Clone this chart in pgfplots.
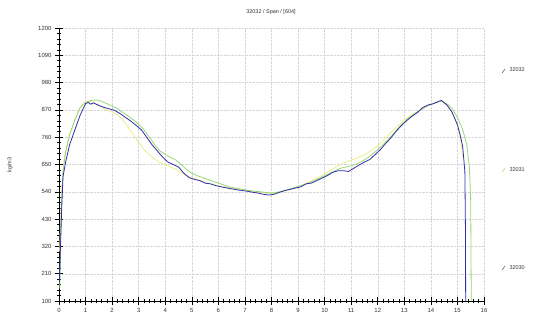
\documentclass[border=0pt]{standalone}
\usepackage{pgfplots}
\pgfplotsset{compat=1.18}
\usepackage{fontspec}
\setmainfont{Liberation Sans}
\definecolor{cblue}{RGB}{50,45,170}
\definecolor{cgreen}{RGB}{150,215,120}
\definecolor{cyellow}{RGB}{235,235,130}
\begin{document}
\begin{tikzpicture}[x=1bp,y=1bp]
\path[use as bounding box] (0,0) rectangle (540,330);
\begin{axis}[
  at={(59bp,29bp)}, anchor=south west, scale only axis,
  width=425bp, height=273bp,
  xmin=0, xmax=16, ymin=100, ymax=1200,
  xtick={0,1,...,16}, ytick={100,210,...,1200},
  minor x tick num=4, minor y tick num=4,
  axis x line=bottom, axis y line=left,
  axis line style={-, black, line width=0.6bp},
  tick align=center,
  major tick length=8bp, minor tick length=4bp,
  every tick/.style={black, line width=0.6bp},
  grid=major,
  major grid style={densely dotted, gray!32, line width=0.4bp},
  ticklabel style={font=\fontsize{6}{7}\selectfont, text=black!80},
  /pgf/number format/assume math mode=true,
  /pgf/number format/1000 sep={},
  clip=false,
]
\addplot[cyellow, line width=0.8bp, opacity=0.9] coordinates {
(0.02,300)(0.1,550)(0.2,680)(0.4,770)(0.6,830)(0.8,880)(1.0,905)(1.2,905)(1.4,895)(1.6,880)(1.8,870)(2.0,860)(2.2,850)(2.4,830)(2.6,800)(2.8,770)(3.0,740)(3.2,710)(3.4,690)(3.6,672)(3.8,658)(4.0,648)(4.2,640)(4.4,630)(4.6,618)(4.8,605)(5.0,598)(5.2,590)(5.4,582)(5.6,575)(5.8,570)(6.0,565)(6.2,560)(6.4,556)(6.6,552)(6.8,548)(7.0,545)(7.2,543)(7.4,540)(7.6,538)(7.8,535)(8.0,533)(8.2,535)(8.4,540)(8.6,546)(8.8,552)(9.0,560)(9.2,568)(9.4,578)(9.6,590)(9.8,600)(10.0,612)(10.2,625)(10.4,638)(10.6,650)(10.8,660)(11.0,668)(11.2,675)(11.4,685)(11.6,695)(11.8,710)(12.0,725)(12.2,745)(12.4,768)(12.6,790)(12.8,810)(13.0,830)(13.2,845)(13.4,858)(13.6,870)(13.8,882)(14.0,892)(14.2,900)(14.4,905)(14.6,890)(14.8,860)(15.0,810)(15.1,760)(15.2,680)
};
\addplot[cgreen, line width=0.8bp] coordinates {
(0.03,150)(0.06,350)(0.1,500)(0.15,620)(0.25,700)(0.4,770)(0.6,830)(0.8,880)(1.0,900)(1.2,908)(1.4,910)(1.6,905)(1.8,895)(2.0,885)(2.2,875)(2.4,860)(2.6,845)(2.8,830)(3.0,812)(3.2,790)(3.4,760)(3.6,730)(3.8,705)(4.0,690)(4.2,678)(4.4,668)(4.6,650)(4.8,630)(5.0,615)(5.2,605)(5.4,598)(5.6,590)(5.8,582)(6.0,575)(6.2,568)(6.4,560)(6.6,556)(6.8,552)(7.0,548)(7.2,545)(7.4,542)(7.6,540)(7.8,537)(8.0,535)(8.2,538)(8.4,542)(8.6,548)(8.8,555)(9.0,562)(9.2,568)(9.4,575)(9.6,585)(9.8,595)(10.0,605)(10.2,615)(10.4,625)(10.6,635)(10.8,640)(11.0,645)(11.2,652)(11.4,662)(11.6,675)(11.8,692)(12.0,710)(12.2,730)(12.4,752)(12.6,775)(12.8,800)(13.0,822)(13.2,840)(13.4,855)(13.6,870)(13.8,882)(14.0,892)(14.2,900)(14.4,905)(14.6,895)(14.8,875)(15.0,840)(15.2,790)(15.35,730)(15.45,640)(15.5,500)(15.52,100)
};
\addplot[cblue, line width=0.8bp] coordinates {
(0.02,180)(0.05,300)(0.1,470)(0.15,600)(0.25,660)(0.4,730)(0.6,790)(0.8,850)(1.0,895)(1.1,900)(1.2,893)(1.3,898)(1.5,888)(1.7,880)(1.9,874)(2.1,868)(2.3,855)(2.5,840)(2.7,825)(2.9,808)(3.1,790)(3.3,760)(3.5,730)(3.7,705)(3.9,680)(4.1,660)(4.3,650)(4.5,640)(4.7,615)(4.9,597)(5.1,590)(5.3,585)(5.5,575)(5.7,572)(5.9,565)(6.1,560)(6.3,556)(6.5,552)(6.7,548)(6.9,545)(7.1,542)(7.3,538)(7.5,535)(7.7,530)(7.9,527)(8.1,530)(8.3,538)(8.5,545)(8.7,550)(8.9,555)(9.1,560)(9.3,572)(9.5,575)(9.7,585)(9.9,595)(10.1,605)(10.3,618)(10.5,625)(10.7,625)(10.9,622)(11.1,635)(11.3,648)(11.5,660)(11.7,670)(11.9,690)(12.1,710)(12.3,735)(12.5,758)(12.7,785)(12.9,808)(13.1,828)(13.3,845)(13.5,860)(13.7,880)(13.9,890)(14.1,895)(14.3,905)(14.4,908)(14.6,890)(14.8,860)(15.0,810)(15.1,770)(15.2,720)(15.28,620)(15.3,400)(15.31,100)
};
\end{axis}
\node[font=\fontsize{5.5}{6}\selectfont, text=black!80] at (271,318) {32032 / Span / [604]};
\node[font=\fontsize{5.5}{6}\selectfont, text=black!80, rotate=90] at (10,165) {kg/m3};
\draw[black!70, line width=0.5bp] (502,257) -- (505,261);
\node[font=\fontsize{5.5}{6}\selectfont, text=black!80, anchor=west] at (506,260) {32032};
\draw[cgreen, line width=0.5bp] (502,158) -- (505,162);
\node[font=\fontsize{5.5}{6}\selectfont, text=black!80, anchor=west] at (506,160) {32031};
\draw[black!70, line width=0.5bp] (502,60) -- (505,64);
\node[font=\fontsize{5.5}{6}\selectfont, text=black!80, anchor=west] at (506,62) {32030};
\end{tikzpicture}
\end{document}
